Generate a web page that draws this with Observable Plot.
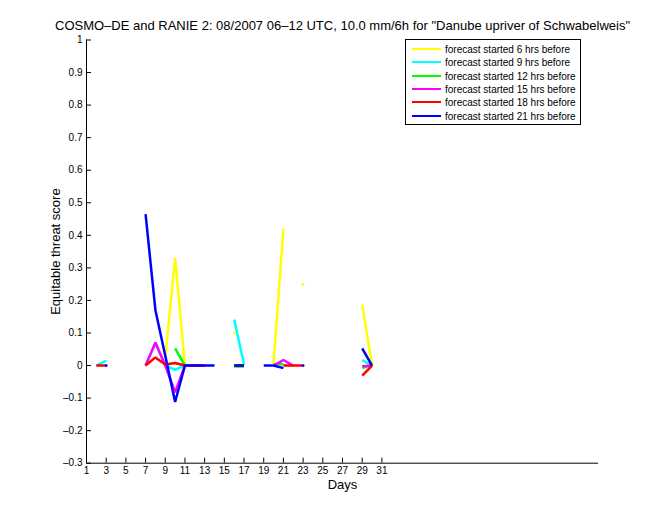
<!DOCTYPE html>
<html><head><meta charset="utf-8">
<script src="https://cdn.jsdelivr.net/npm/d3@7"></script>
<script src="https://cdn.jsdelivr.net/npm/@observablehq/plot@0.6"></script>
<style>
body{margin:0;background:#fff;}
#wrap{position:relative;width:660px;height:520px;font-family:"Liberation Sans",Arial,Helvetica,sans-serif;}
#legend{position:absolute;left:405px;top:39px;width:174px;height:84px;border:1px solid #000;background:#fff;font-size:10px;}
.row{position:absolute;left:0;height:13px;}
.sw{position:absolute;left:6px;width:29px;height:0;border-top:2.5px solid;}
.lt{position:absolute;left:39px;white-space:nowrap;line-height:13px;}
</style></head>
<body><div id="wrap"></div>
<script>
const days = [1,2,3,4,5,6,7,8,9,10,11,12,13,14,15,16,17,18,19,20,21,22,23,24,25,26,27,28,29,30,31];
const xTicks = [1,3,5,7,9,11,13,15,17,19,21,23,25,27,29,31];
const yTicks = [-0.3,-0.2,-0.1,0,0.1,0.2,0.3,0.4,0.5,0.6,0.7,0.8,0.9,1];
const seriesNames = ["forecast started 6 hrs before","forecast started 9 hrs before","forecast started 12 hrs before","forecast started 15 hrs before","forecast started 18 hrs before","forecast started 21 hrs before"];
const seriesColors = ["#ffff00","#00ffff","#00ff00","#ff00ff","#ff0000","#0000ff"];
const yellow6 = [
 null,null,null,null,null,null,null,null,0.025,0.331,
 0,null,null,null,null,0.099,null,null,null,0.005,
 0.421,null,0.249,null,null,null,null,null,0.187,0,
 null];
const cyan9 = [
 null,0,0.015,null,null,null,0,0.068,0,-0.013,
 0,null,null,null,null,0.141,0.003,null,null,null,
 null,null,null,null,null,null,null,null,0.017,0,
 null];
const green12 = [
 null,null,null,null,null,null,null,null,null,0.053,
 0,null,null,null,null,-0.003,-0.003,null,null,0.004,
 0.004,null,null,null,null,null,null,null,-0.007,0,
 null];
const magenta15 = [
 null,null,null,null,null,null,0,0.071,0,-0.082,
 0,0,0,null,null,null,null,null,null,0,
 0.017,0,null,null,null,null,null,null,-0.002,0,
 null];
const red18 = [
 null,0,0,null,null,null,0,0.025,0.003,0.008,
 0,0,0,null,null,0,0,null,null,null,
 0,0,0,null,null,null,null,null,-0.031,0,
 null];
const blue21 = [
 null,null,0,null,null,null,0.465,0.17,0.03,-0.112,
 0,0,0,0,null,0,0,null,0,0,
 -0.008,null,0,null,null,null,null,null,0.053,0,
 null];
const seriesValues = [yellow6, cyan9, green12, magenta15, red18, blue21];

const title = 'COSMO–DE and RANIE 2: 08/2007 06–12 UTC, 10.0 mm/6h for "Danube upriver of Schwabelweis"';
const xLabel = "Days";
const yLabel = "Equitable threat score";

const W = 660, H = 520, mt = 39.5, mb = 57.3, ml = 86, mr = 62;
const plotW = W - ml - mr, plotH = H - mt - mb;
const font = '"Liberation Sans", Arial, Helvetica, sans-serif';

const lineMarks = [], dotMarks = [];
seriesValues.forEach((vals, s) => {
  const rows = days.map((d, i) => ({day: d, v: vals[i]}));
  lineMarks.push(Plot.line(rows, {x: "day", y: "v", stroke: seriesColors[s], strokeWidth: 2.5, strokeLinejoin: "miter", strokeLinecap: "butt"}));
  const iso = rows.filter((r, i) => r.v != null && (i === 0 || vals[i-1] == null) && (i === vals.length - 1 || vals[i+1] == null));
  dotMarks.push(Plot.dot(iso, {x: "day", y: "v", r: 1.4, fill: seriesColors[s], stroke: null}));
});

const fmt = d => String(d).replace("-", "–");

const chart = Plot.plot({
  width: W, height: H,
  marginTop: mt, marginBottom: mb, marginLeft: ml, marginRight: mr,
  style: {fontFamily: font, fontSize: "10px", background: "#fff", color: "#000"},
  x: {domain: [1, 53]},
  y: {domain: [-0.3, 1]},
  marks: [
    ...lineMarks,
    ...dotMarks,
    Plot.ruleX([1], {stroke: "#000", strokeWidth: 1}),
    Plot.ruleY([-0.3], {stroke: "#000", strokeWidth: 1}),
    Plot.ruleX(xTicks, {x: d => d, stroke: "#000", insetTop: plotH - 5}),
    Plot.ruleY(yTicks, {y: d => d, stroke: "#000", insetRight: plotW - 5}),
    Plot.axisX(xTicks, {tickSize: 0, tickPadding: 4, label: null, fontSize: 10, fill: "#000"}),
    Plot.axisY(yTicks, {tickSize: 0, tickPadding: 4, label: null, tickFormat: fmt, fontSize: 10, fill: "#000"}),
    Plot.text([title], {text: d => d, frameAnchor: "top", lineAnchor: "middle", textAnchor: "middle", dy: -14, fontSize: 13, fill: "#000"}),
    Plot.text([xLabel], {text: d => d, frameAnchor: "bottom", lineAnchor: "middle", textAnchor: "middle", dy: 22, fontSize: 13, fill: "#000"}),
    Plot.text([yLabel], {text: d => d, frameAnchor: "left", lineAnchor: "middle", textAnchor: "middle", rotate: -90, dx: -31, fontSize: 13, fill: "#000"})
  ]
});
const wrap = document.getElementById("wrap");
wrap.appendChild(chart);

const legend = document.createElement("div");
legend.id = "legend";
seriesNames.forEach((name, i) => {
  const row = document.createElement("div");
  row.className = "row";
  row.style.top = (3 + i * 13.3) + "px";
  const sw = document.createElement("div");
  sw.className = "sw";
  sw.style.borderColor = seriesColors[i];
  sw.style.top = "5px";
  const lt = document.createElement("div");
  lt.className = "lt";
  lt.textContent = name;
  row.appendChild(sw); row.appendChild(lt);
  legend.appendChild(row);
});
wrap.appendChild(legend);
</script>
</body></html>
